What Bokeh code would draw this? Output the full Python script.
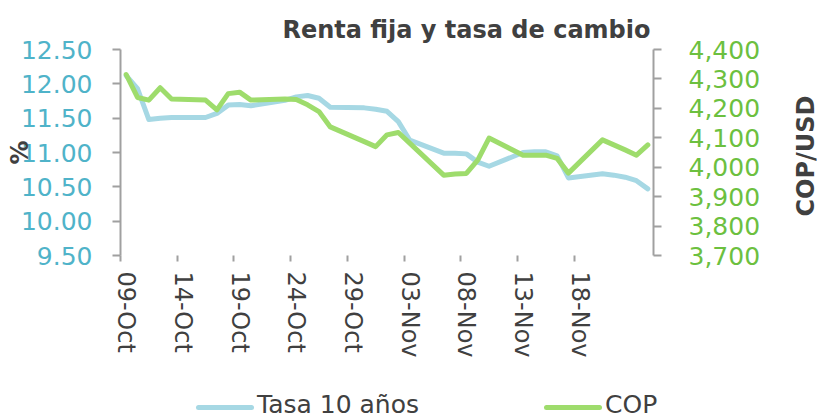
import math
import pandas as pd
from bokeh.plotting import figure
from bokeh.layouts import column, row
from bokeh.models import (LinearAxis, Range1d, FixedTicker, NumeralTickFormatter,
                          DatetimeTickFormatter, Div)
from bokeh.embed import file_html
from bokeh.resources import INLINE

# ---- data ----
dates = ["2023-10-09", "2023-10-10", "2023-10-11", "2023-10-12", "2023-10-13",
         "2023-10-16", "2023-10-17", "2023-10-18", "2023-10-19", "2023-10-20",
         "2023-10-23", "2023-10-24", "2023-10-25", "2023-10-26", "2023-10-27",
         "2023-10-30", "2023-10-31", "2023-11-01", "2023-11-02", "2023-11-03",
         "2023-11-06", "2023-11-07", "2023-11-08", "2023-11-09", "2023-11-10",
         "2023-11-13", "2023-11-14", "2023-11-15", "2023-11-16", "2023-11-17",
         "2023-11-20", "2023-11-21", "2023-11-22", "2023-11-23", "2023-11-24"]
tasa_10 = [12.12, 11.93, 11.48, 11.50, 11.51,
           11.51, 11.57, 11.69, 11.70, 11.68,
           11.76, 11.81, 11.83, 11.79, 11.66,
           11.65, 11.63, 11.60, 11.45, 11.18,
           10.99, 10.99, 10.98, 10.86, 10.80,
           11.00, 11.01, 11.01, 10.95, 10.63,
           10.69, 10.67, 10.64, 10.59, 10.47]
cop = [4315, 4237, 4228, 4270, 4232,
       4228, 4195, 4250, 4255, 4228,
       4232, 4230, 4212, 4189, 4137,
       4087, 4070, 4110, 4118, 4082,
       3973, 3977, 3979, 4024, 4099,
       4041, 4041, 4041, 4030, 3980,
       4093, 4076, 4059, 4041, 4076]
x_tick_dates = ["2023-10-09", "2023-10-14", "2023-10-19", "2023-10-24", "2023-10-29",
                "2023-11-03", "2023-11-08", "2023-11-13", "2023-11-18"]
left_ticks = [9.5, 10.0, 10.5, 11.0, 11.5, 12.0, 12.5]
right_ticks = [3700, 3800, 3900, 4000, 4100, 4200, 4300, 4400]
series_names = ["Tasa 10 años", "COP"]
right_title = "COP/USD"

x = pd.to_datetime(dates)
half_day = pd.Timedelta(hours=12)
x_start = pd.Timestamp(dates[0]) - half_day
x_end = pd.Timestamp(dates[-1]) + half_day

def ms(ts):
    return int(pd.Timestamp(ts).value // 10**6)

GRAY = "#A0A0A0"
DARK = "#404040"
FONT = "DejaVu Sans"
BLUE = "#A6D8E4"
GREEN = "#9EDC6C"

p = figure(width=781, height=379, x_axis_type="datetime",
           x_range=Range1d(x_start, x_end), y_range=Range1d(9.5, 12.5),
           output_backend="svg", toolbar_location=None,
           min_border_left=120, min_border_right=128,
           min_border_top=49, min_border_bottom=124)
p.outline_line_color = None
p.xgrid.grid_line_color = None
p.ygrid.grid_line_color = None
p.background_fill_color = "white"

# title
p.title.text = "Renta fija y tasa de cambio"
p.title.align = "right"
p.title.offset = 3
p.title.standoff = 12
p.title.text_font = FONT
p.title.text_font_style = "bold"
p.title.text_font_size = "24px"
p.title.text_color = DARK

p.extra_y_ranges = {"cop": Range1d(3700, 4400)}

# left axis
ya = p.yaxis[0]
ya.ticker = FixedTicker(ticks=left_ticks)
ya.formatter = NumeralTickFormatter(format="0.00")
ya.axis_line_color = GRAY
ya.axis_line_width = 2
ya.major_tick_line_color = GRAY
ya.major_tick_line_width = 2
ya.major_tick_out = 8
ya.major_tick_in = 0
ya.minor_tick_line_color = None
ya.major_label_text_color = "#4FB3C9"
ya.major_label_text_font = FONT
ya.major_label_text_font_size = "25px"
ya.major_label_standoff = 20
ya.axis_label = "%"
ya.axis_label_text_font = FONT
ya.axis_label_text_font_style = "bold"
ya.axis_label_text_font_size = "24px"
ya.axis_label_text_color = DARK
ya.axis_label_standoff = -16

# right axis (values only)
ra = LinearAxis(y_range_name="cop", ticker=FixedTicker(ticks=right_ticks),
                formatter=NumeralTickFormatter(format="0,0"))
ra.axis_line_color = GRAY
ra.axis_line_width = 2
ra.major_tick_line_color = GRAY
ra.major_tick_line_width = 2
ra.major_tick_out = 8
ra.major_tick_in = 0
ra.minor_tick_line_color = None
ra.major_label_text_color = "#6CC03F"
ra.major_label_text_font = FONT
ra.major_label_text_font_size = "25px"
ra.major_label_standoff = 27
p.add_layout(ra, "right")

# bottom axis
xa = p.xaxis[0]
xa.ticker = FixedTicker(ticks=[ms(d) for d in x_tick_dates],
                        minor_ticks=[ms(pd.Timestamp(d) - half_day) for d in x_tick_dates])
fmt = "%d-%b"
xa.formatter = DatetimeTickFormatter(days=fmt, months=fmt, hours=fmt, years=fmt,
                                     hourmin=fmt, minutes=fmt, minsec=fmt, seconds=fmt,
                                     milliseconds=fmt, microseconds=fmt)
xa.axis_line_color = None
xa.major_tick_line_color = None
xa.major_tick_out = 6
xa.major_tick_in = 0
xa.minor_tick_line_color = GRAY
xa.minor_tick_line_width = 2
xa.minor_tick_out = 6
xa.minor_tick_in = 0
xa.major_label_orientation = "vertical"
xa.major_label_text_color = DARK
xa.major_label_text_font = FONT
xa.major_label_text_font_size = "24px"
xa.major_label_standoff = 10

# lines
p.line(x, tasa_10, line_color=BLUE, line_width=5, line_join="round", line_cap="round")
p.line(x, cop, y_range_name="cop", line_color=GREEN, line_width=5,
       line_join="round", line_cap="round")

# right-hand axis title (reads bottom-to-top)
side_html = (f'<div style="position:relative;width:36px;height:300px;">'
             f'<span style="position:absolute;left:20px;top:151px;'
             f'transform:translate(-50%,-50%) rotate(-90deg);white-space:nowrap;'
             f'font-family:\'{FONT}\';font-weight:bold;font-size:24px;line-height:29px;'
             f'color:{DARK};">{right_title}</span></div>')
side = Div(text=side_html, width=36, height=300)

# legend strip
def key(left, color, label):
    return (f'<span style="position:absolute;left:{left}px;top:21px;width:58px;height:5px;'
            f'border-radius:3px;background:{color};"></span>'
            f'<span style="position:absolute;left:{left + 61}px;top:6px;white-space:nowrap;">'
            f'{label}</span>')

legend_html = (f'<div style="position:relative;width:817px;height:40px;'
               f'font-family:\'{FONT}\';font-size:25px;line-height:29px;color:{DARK};">'
               + key(191, BLUE, series_names[0]) + key(539, GREEN, series_names[1])
               + '</div>')
lg = Div(text=legend_html, width=817, height=40)

layout = column(row(p, side, spacing=0), lg, spacing=0)
open("out.html", "w").write(file_html(layout, INLINE))
